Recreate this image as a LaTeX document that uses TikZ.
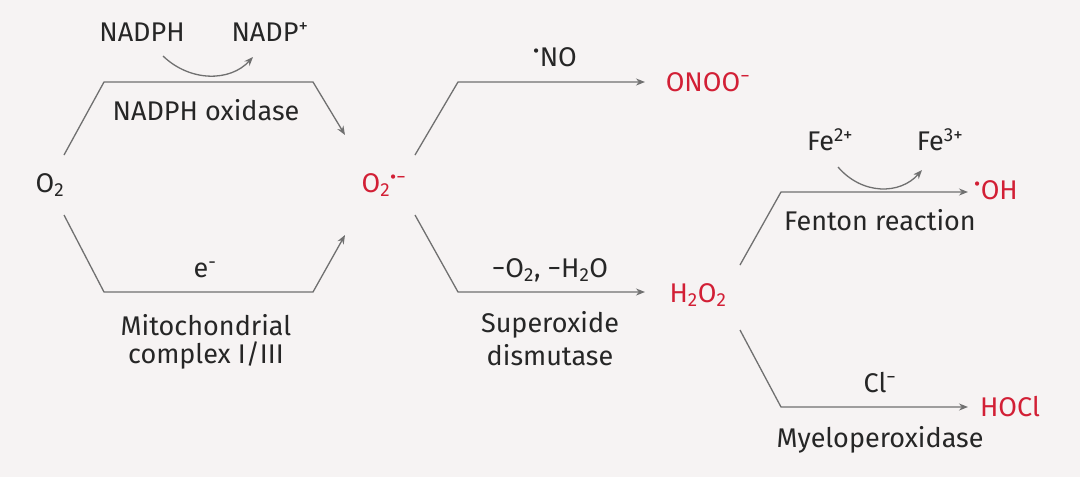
\documentclass[tikz,border=0pt]{standalone}
\usepackage{fontspec}
\setmainfont{Fira Sans}
\usetikzlibrary{arrows.meta}
\definecolor{bg}{HTML}{F6F3F3}
\definecolor{ln}{HTML}{707070}
\definecolor{rd}{HTML}{D21F35}
\newcommand{\dn}[1]{\textsubscript{#1}}
\newcommand{\up}[1]{\textsuperscript{#1}}
\begin{document}
\begin{tikzpicture}[x=1pt,y=-1pt,
  every node/.style={font=\fontsize{27}{30}\selectfont, text=black!85, inner sep=1pt},
  red/.style={text=rd},
  ln/.style={draw=ln, line width=1.3pt},
  arr/.style={ln, -{Stealth[length=9pt,width=7pt]}}]
\fill[bg] (0,0) rectangle (1080,477);
\useasboundingbox (0,0) rectangle (1080,477);
\node (o2) at (50,185) {O\dn{2}};
\node (nadph) at (142,32) {NADPH};
\node (nadp) at (270,32) {NADP\up{+}};
\node at (206,110) {NADPH oxidase};
\node at (205,270) {e\up{-}};
\node at (206,325) {Mitochondrial};
\node at (206,355) {complex I/III};
\node[red] (sup) at (384,185) {O\dn{2}\up{•−}};
\node at (555,57) {\up{•}NO};
\node[red] (onoo) at (708,82) {ONOO\up{−}};
\node at (550,270) {−O\dn{2}, −H\dn{2}O};
\node at (550,325) {Superoxide};
\node at (550,355) {dismutase};
\node[red] (h2o2) at (698,295) {H\dn{2}O\dn{2}};
\node (fe2) at (830,140) {Fe\up{2+}};
\node (fe3) at (940,140) {Fe\up{3+}};
\node[red] (oh) at (996,190) {\up{•}OH};
\node at (880,220) {Fenton reaction};
\node at (880,383) {Cl\up{−}};
\node[red] (hocl) at (1010,407) {HOCl};
\node at (880,440) {Myeloperoxidase};
\coordinate (a1) at (64,155); \coordinate (a2) at (104,82); \coordinate (a3) at (313,82); \coordinate (a4) at (345,135);
\coordinate (b1) at (64,215); \coordinate (b2) at (104,292); \coordinate (b3) at (313,292); \coordinate (b4) at (345,235);
\draw[arr] (a1) -- (a2) -- (a3) -- (a4);
\draw[arr] (b1) -- (b2) -- (b3) -- (b4);
\coordinate (c1) at (415,155); \coordinate (c2) at (458,82); \coordinate (c3) at (645,82);
\coordinate (d1) at (415,215); \coordinate (d2) at (458,292); \coordinate (d3) at (645,292);
\draw[arr] (c1) -- (c2) -- (c3);
\draw[arr] (d1) -- (d2) -- (d3);
\coordinate (e1) at (740,265); \coordinate (e2) at (781,192); \coordinate (e3) at (968,192);
\coordinate (f1) at (740,330); \coordinate (f2) at (781,407); \coordinate (f3) at (968,407);
\draw[arr] (e1) -- (e2) -- (e3);
\draw[arr] (f1) -- (f2) -- (f3);
\draw[arr] (163,56) .. controls (190,82) and (230,82) .. (253,57);
\draw[arr] (838,167) .. controls (862,195) and (900,195) .. (922,170);
\end{tikzpicture}
\end{document}
